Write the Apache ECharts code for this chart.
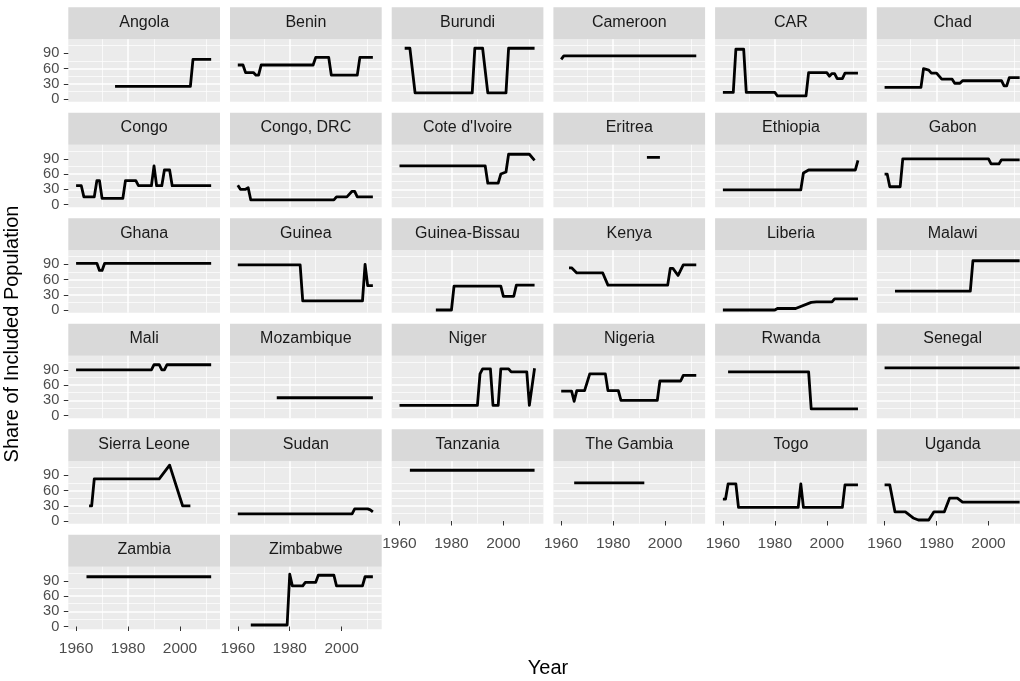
<!DOCTYPE html>
<html>
<head>
<meta charset="utf-8">
<script src="https://cdn.jsdelivr.net/npm/echarts@6/dist/echarts.min.js"></script>
<style>html,body{margin:0;padding:0;background:#fff}#chart{width:1020px;height:681px}</style>
</head>
<body>
<div id="chart"></div>
<script>
// ---- data ----
const countries = ['Angola','Benin','Burundi','Cameroon','CAR','Chad',
  'Congo','Congo, DRC',"Cote d'Ivoire",'Eritrea','Ethiopia','Gabon',
  'Ghana','Guinea','Guinea-Bissau','Kenya','Liberia','Malawi',
  'Mali','Mozambique','Niger','Nigeria','Rwanda','Senegal',
  'Sierra Leone','Sudan','Tanzania','The Gambia','Togo','Uganda',
  'Zambia','Zimbabwe'];
const angola = [[1975,25],[2004,25],[2005,78],[2012,78]];
const benin = [[1960,67],[1962,67],[1963,52],[1966,52],[1967,47],[1968,47],[1969,67],[1989,67],[1990,82],[1995,82],[1996,47],[2006,47],[2007,82],[2012,82]];
const burundi = [[1962,100],[1964,100],[1966,12],[1988,12],[1989,100],[1992,100],[1994,12],[2001,12],[2002,100],[2012,100]];
const cameroon = [[1960,78],[1961,85],[2012,85]];
const car = [[1960,13],[1964,13],[1965,98],[1968,98],[1969,13],[1980,13],[1981,6],[1992,6],[1993,52],[2000,52],[2001,45],[2002,50],[2003,50],[2004,40],[2006,40],[2007,51],[2012,51]];
const chad = [[1960,23],[1974,23],[1975,60],[1977,57],[1978,51],[1980,51],[1982,39],[1986,39],[1987,31],[1989,31],[1990,36],[2005,36],[2006,26],[2007,26],[2008,42],[2012,42]];
const congo = [[1960,37],[1962,37],[1963,15],[1967,15],[1968,47],[1969,47],[1970,12],[1978,12],[1979,47],[1983,47],[1984,37],[1989,37],[1990,76],[1991,37],[1993,37],[1994,68],[1996,68],[1997,37],[2012,37]];
const congoDRC = [[1960,38],[1961,30],[1963,30],[1964,33],[1965,9],[1997,9],[1998,15],[2002,15],[2004,26],[2005,26],[2006,15],[2012,15]];
const coteIvoire = [[1960,76],[1993,76],[1994,42],[1998,42],[1999,60],[2000,62],[2001,64],[2002,99],[2010,99],[2012,87]];
const eritrea = [[1993,93],[1998,93]];
const ethiopia = [[1960,29],[1990,29],[1991,62],[1993,68],[2011,68],[2012,87]];
const gabon = [[1960,60],[1961,60],[1962,35],[1966,35],[1967,90],[2000,90],[2001,80],[2004,80],[2005,88],[2012,88]];
const ghana = [[1960,92],[1968,92],[1969,78],[1970,78],[1971,92],[2012,92]];
const guinea = [[1960,89],[1984,89],[1985,18],[2008,18],[2009,90],[2010,48],[2012,48]];
const guineaBissau = [[1974,0],[1980,0],[1981,47],[1999,47],[2000,27],[2004,27],[2005,49],[2012,49]];
const kenya = [[1963,83],[1964,83],[1966,73],[1976,73],[1978,49],[2001,49],[2002,82],[2003,82],[2005,68],[2007,89],[2012,89]];
const liberia = [[1960,0],[1980,0],[1981,3],[1988,3],[1994,15],[1996,16],[2002,16],[2003,22],[2012,22]];
const malawi = [[1964,37],[1993,37],[1994,97],[2012,97]];
const mali = [[1960,90],[1989,90],[1990,100],[1992,100],[1993,90],[1994,90],[1995,100],[2012,100]];
const mozambique = [[1975,35],[2012,35]];
const niger = [[1960,20],[1990,20],[1991,82],[1992,92],[1995,92],[1996,20],[1998,20],[1999,92],[2002,92],[2003,86],[2009,86],[2010,20],[2012,93]];
const nigeria = [[1960,48],[1964,48],[1965,28],[1966,49],[1969,49],[1971,82],[1977,82],[1978,49],[1982,49],[1983,30],[1997,30],[1998,68],[2006,68],[2007,79],[2012,79]];
const rwanda = [[1962,86],[1993,86],[1994,13],[2012,13]];
const senegal = [[1960,94],[2012,94]];
const sierraLeone = [[1965,30],[1966,30],[1967,83],[1992,83],[1996,110],[2001,30],[2004,30]];
const sudan = [[1960,14],[2004,14],[2005,24],[2010,24],[2011,22],[2012,18]];
const tanzania = [[1964,100],[2012,100]];
const gambia = [[1965,75],[1992,75]];
const togo = [[1960,43],[1961,43],[1962,73],[1965,73],[1966,27],[1989,27],[1990,73],[1991,27],[2006,27],[2007,71],[2012,71]];
const uganda = [[1960,71],[1962,71],[1964,18],[1968,18],[1971,6],[1973,2],[1977,2],[1979,18],[1983,18],[1985,45],[1988,45],[1990,37],[2012,37]];
const zambia = [[1964,98],[2012,98]];
const zimbabwe = [[1965,3],[1979,3],[1980,103],[1981,80],[1985,80],[1986,87],[1990,87],[1991,101],[1997,101],[1998,80],[2008,80],[2009,98],[2012,98]];
const seriesValues = [angola,benin,burundi,cameroon,car,chad,congo,congoDRC,coteIvoire,eritrea,ethiopia,gabon,
  ghana,guinea,guineaBissau,kenya,liberia,malawi,mali,mozambique,niger,nigeria,rwanda,senegal,
  sierraLeone,sudan,tanzania,gambia,togo,uganda,zambia,zimbabwe];
const xTicks = [1960,1980,2000];
const yTicks = [0,30,60,90];
const xRange = [1957.0, 2015.4];
const yRange = [-5.3, 117.6];

// ---- layout ----
const FONT = '"Liberation Sans", Arial, Helvetica, sans-serif';
const L0 = 68.3, CW = 161.7, PW = 151.7, T0 = 39.3, RH = 105.5, PH = 62.4, SH = 32;
const grids = [], xAxes = [], yAxes = [], series = [], graphics = [];
const n = countries.length;
const plain = v => String(Math.round(v));
countries.forEach((name, i) => {
  const c = i % 6, r = Math.floor(i / 6);
  const left = L0 + c * CW, top = T0 + r * RH;
  const bottom = i + 6 >= n, first = c === 0;
  grids.push({left, top, width: PW, height: PH, show: true, backgroundColor: '#EBEBEB',
    borderWidth: 0, containLabel: false, outerBoundsMode: 'none'});
  xAxes.push({type: 'value', gridIndex: i, min: xRange[0], max: xRange[1], splitNumber: 3,
    axisLine: {show: false},
    axisTick: {show: bottom, length: 4.5, customValues: xTicks, lineStyle: {color: '#333333', width: 1}},
    axisLabel: {show: bottom, customValues: xTicks, hideOverlap: false,
      showMinLabel: true, showMaxLabel: true, formatter: plain,
      color: '#4D4D4D', fontSize: 15.5, fontFamily: FONT, margin: 12},
    splitLine: {show: true, showMinLine: false, showMaxLine: false, lineStyle: {color: '#FFFFFF', width: 1.5}},
    minorTick: {show: false, splitNumber: 2},
    minorSplitLine: {show: true, lineStyle: {color: '#FFFFFF', width: 0.7}}});
  yAxes.push({type: 'value', gridIndex: i, min: yRange[0], max: yRange[1], splitNumber: 4,
    axisLine: {show: false},
    axisTick: {show: first, length: 4.5, customValues: yTicks, lineStyle: {color: '#333333', width: 1}},
    axisLabel: {show: first, customValues: yTicks, hideOverlap: false,
      showMinLabel: true, showMaxLabel: true, formatter: plain,
      color: '#4D4D4D', fontSize: 14.6, lineHeight: 12, fontFamily: FONT, margin: 9},
    splitLine: {show: true, showMinLine: false, showMaxLine: false, lineStyle: {color: '#FFFFFF', width: 1.5}},
    minorTick: {show: false, splitNumber: 2},
    minorSplitLine: {show: true, lineStyle: {color: '#FFFFFF', width: 0.7}}});
  series.push({type: 'line', xAxisIndex: i, yAxisIndex: i, data: seriesValues[i],
    showSymbol: false, symbol: 'none', silent: true, clip: true,
    lineStyle: {color: '#000000', width: 2.8, join: 'round'}});
  graphics.push({type: 'rect', shape: {x: left, y: top - SH, width: PW, height: SH},
    style: {fill: '#D9D9D9'}, silent: true});
  graphics.push({type: 'text', x: left + PW / 2, y: top - SH / 2 - 1, silent: true,
    style: {text: name, fill: '#1A1A1A', fontSize: 16, fontFamily: FONT,
      textAlign: 'center', textVerticalAlign: 'middle'}});
});
graphics.push({type: 'text', x: 12, y: 334, rotation: Math.PI / 2, silent: true,
  style: {text: 'Share of Included Population', fill: '#000000', fontSize: 20, fontFamily: FONT,
    textAlign: 'center', textVerticalAlign: 'middle'}});
graphics.push({type: 'text', x: 548, y: 668, silent: true,
  style: {text: 'Year', fill: '#000000', fontSize: 20, fontFamily: FONT,
    textAlign: 'center', textVerticalAlign: 'middle'}});

const chart = echarts.init(document.getElementById('chart'));
chart.setOption({
  animation: false,
  backgroundColor: '#FFFFFF',
  grid: grids, xAxis: xAxes, yAxis: yAxes, series: series,
  graphic: graphics
});
</script>
</body>
</html>
